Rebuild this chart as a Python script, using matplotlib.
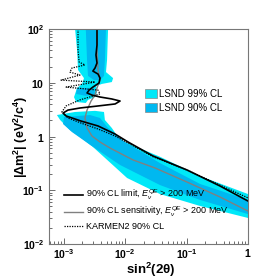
import math
import matplotlib
matplotlib.use('Agg')
import matplotlib.pyplot as plt
from matplotlib.patches import Patch
from matplotlib.lines import Line2D
from matplotlib.ticker import FuncFormatter, LogLocator, NullFormatter

plt.rcParams['font.family'] = ['Liberation Sans', 'DejaVu Sans']
plt.rcParams['mathtext.fontset'] = 'custom'
plt.rcParams['mathtext.rm'] = 'Liberation Sans'
plt.rcParams['mathtext.it'] = 'Liberation Sans:italic'
plt.rcParams['mathtext.bf'] = 'Liberation Sans:bold'

# LSND allowed regions (sin^2 2theta, dm^2) polygons
lsnd99_up_x = [1.54e-3, 5.3e-3, 5.1e-3, 4.9e-3, 6.4e-3, 6.1e-3, 4.2e-3, 3.4e-3, 3.5e-3,
               3.25e-3, 2.5e-3, 2.3e-3, 1.6e-3, 1.48e-3, 1.66e-3, 2.0e-3, 2.15e-3, 1.72e-3, 1.66e-3]
lsnd99_up_y = [100, 100, 26.5, 15.8, 12.2, 10.3, 9.5, 8.7, 6.7,
               5.4, 4.8, 4.2, 4.4, 5.4, 8.0, 9.5, 12.2, 17.3, 40.7]
lsnd99_lo_x = [7.8e-4, 1.54e-3, 3.25e-3, 4.55e-3, 4.7e-3, 6.1e-3, 8.3e-3, 0.037, 0.166, 1.0,
               1.0, 0.166, 0.037, 0.0108, 3.0e-3, 1.85e-3, 1.27e-3, 8.8e-4]
lsnd99_lo_y = [2.51, 2.86, 3.0, 2.86, 2.03, 1.44, 0.86, 0.42, 0.184, 0.085,
               0.0305, 0.051, 0.085, 0.169, 0.64, 0.98, 1.32, 2.03]
lsnd90_up_x = [2.3e-3, 4.9e-3, 4.7e-3, 4.55e-3, 3.92e-3, 3.13e-3, 2.5e-3, 2.41e-3]
lsnd90_up_y = [100, 100, 26.5, 13.4, 11.2, 11.2, 13.4, 26.5]
lsnd90_isl_x = [1.66e-3, 3.13e-3, 3.25e-3, 2.3e-3, 1.6e-3]
lsnd90_isl_y = [8.0, 8.0, 6.2, 5.7, 6.2]
lsnd90_lo_x = [1.02e-3, 2.7e-3, 3.92e-3, 5.3e-3, 0.01, 0.037, 0.166, 1.0,
               1.0, 0.166, 0.037, 8.3e-3, 2.7e-3, 1.37e-3, 9.8e-4]
lsnd90_lo_y = [2.3, 2.51, 2.21, 1.44, 0.79, 0.32, 0.131, 0.066,
               0.036, 0.066, 0.125, 0.295, 0.70, 1.21, 1.71]

# 90% CL limit (black)
limit_x = [3.5e-3, 3.5e-3, 3.37e-3, 3.5e-3, 3.25e-3, 3.0e-3, 3.64e-3, 3.92e-3, 3.78e-3, 3.0e-3,
           2.6e-3, 2.41e-3, 2.9e-3, 3.92e-3, 6.1e-3, 8.3e-3, 6.9e-3, 3.64e-3, 1.85e-3, 1.18e-3,
           9.8e-4, 1.1e-3, 1.92e-3, 3.64e-3, 6.9e-3, 0.0112, 0.0285, 0.102, 0.35, 1.0]
limit_y = [100, 50.4, 32.8, 23.3, 18.8, 16.5, 14.5, 12.2, 9.9, 8.3,
           7.3, 6.45, 5.9, 5.43, 4.99, 4.57, 4.03, 3.7, 3.39, 3.1,
           2.73, 2.41, 1.94, 1.57, 1.11, 0.79, 0.434, 0.238, 0.12, 0.063]

# 90% CL sensitivity (gray)
sens_x = [3.5e-3, 3.5e-3, 3.64e-3, 3.92e-3, 3.5e-3, 3.25e-3, 2.8e-3, 2.41e-3, 2.23e-3, 2.41e-3,
          2.9e-3, 3.92e-3, 5.7e-3, 0.0135, 0.0307, 0.102, 0.35, 1.0]
sens_y = [100, 40.7, 17.3, 11.2, 8.0, 5.9, 4.57, 3.1, 2.21, 1.44,
          1.02, 0.79, 0.61, 0.366, 0.26, 0.142, 0.075, 0.041]

# KARMEN2 90% CL (dotted)
karmen_x = [1.72e-3, 1.72e-3, 1.79e-3, 2.23e-3, 1.37e-3, 1.27e-3, 1.85e-3, 9.1e-4, 3.25e-3, 1.1e-3,
            3.64e-3, 3.92e-3, 1.85e-3, 1.1e-3, 9.4e-4, 1.18e-3, 1.92e-3, 3.64e-3, 6.9e-3, 0.0112,
            0.0285, 0.102, 0.35, 1.0]
karmen_y = [100, 40.7, 24.3, 21.4, 18.8, 15.8, 13.9, 11.2, 10.3, 8.3,
            7.3, 6.2, 4.8, 3.7, 2.86, 2.21, 1.78, 1.38, 1.02, 0.76,
            0.42, 0.238, 0.125, 0.072]

C99 = '#00e8f8'
C90 = '#00b8f0'

fig = plt.figure(figsize=(2.75, 2.8), dpi=100)
ax = fig.add_axes([49 / 275, 36 / 280, 199 / 275, 215 / 280])

ax.fill(lsnd99_up_x, lsnd99_up_y, color=C99, lw=0)
ax.fill(lsnd99_lo_x, lsnd99_lo_y, color=C99, lw=0)
ax.fill(lsnd90_up_x, lsnd90_up_y, color=C90, lw=0)
ax.fill(lsnd90_isl_x, lsnd90_isl_y, color=C90, lw=0)
ax.fill(lsnd90_lo_x, lsnd90_lo_y, color=C90, lw=0)

ax.plot(sens_x, sens_y, color='#808080', lw=1.0)
ax.plot(karmen_x, karmen_y, color='black', lw=0.9, ls=(0, (1, 1)))
ax.plot(limit_x, limit_y, color='black', lw=1.2)

ax.set_xscale('log')
ax.set_yscale('log')
ax.set_xlim(5.8e-4, 1.0)
ax.set_ylim(1e-2, 1e2)


def fmt(v, pos):
    e = int(round(math.log10(v)))
    if e == 0:
        return r'$\mathbf{1}$'
    if e == 1:
        return r'$\mathbf{10}$'
    return r'$\mathbf{10^{%d}}$' % e


ax.xaxis.set_major_formatter(FuncFormatter(fmt))
ax.yaxis.set_major_formatter(FuncFormatter(fmt))
ax.xaxis.set_minor_locator(LogLocator(base=10, subs=range(2, 10)))
ax.yaxis.set_minor_locator(LogLocator(base=10, subs=range(2, 10)))
ax.xaxis.set_minor_formatter(NullFormatter())
ax.yaxis.set_minor_formatter(NullFormatter())
ax.tick_params(which='both', direction='in', top=False, right=False, labelsize=7.5, colors='#555555',
               labelcolor='black', width=0.6)
ax.tick_params(which='major', length=4)
ax.tick_params(which='minor', length=2)
ax.tick_params(axis='x', which='major', pad=2.5)
for s in ax.spines.values():
    s.set_color('#777777')
    s.set_linewidth(0.8)

ax.set_xlabel(r'$\mathbf{sin^2(2\theta)}$', fontsize=9.5)
ax.set_ylabel(r'$\mathbf{|\Delta m^2|\ (eV^2/c^4)}$', fontsize=9)
ax.xaxis.set_label_coords(0.51, -0.076)
ax.yaxis.set_label_coords(-0.095, 0.5)

h1 = [Patch(facecolor=C99, edgecolor='#888888', lw=0.5), Patch(facecolor=C90, edgecolor='#888888', lw=0.5)]
leg1 = ax.legend(h1, ['LSND 99% CL', 'LSND 90% CL'], loc='upper left', bbox_to_anchor=(0.46, 0.745),
                 frameon=False, fontsize=7, handlelength=1.2, handleheight=1.1, handletextpad=0.15,
                 borderpad=0, labelspacing=0.45)
ax.add_artist(leg1)

h2 = [Line2D([], [], color='black', lw=1.2), Line2D([], [], color='#808080', lw=1.0),
      Line2D([], [], color='black', lw=0.9, ls=(0, (1, 1)))]
labs2 = [r'90% CL limit, $E_{\nu}^{QE}$ > 200 MeV', r'90% CL sensitivity, $E_{\nu}^{QE}$ > 200 MeV',
         'KARMEN2 90% CL']
ax.legend(h2, labs2, loc='lower left', bbox_to_anchor=(0.055, 0.04), frameon=False, fontsize=6.5,
          handlelength=2.0, handletextpad=0.35, borderpad=0, labelspacing=0.3)

fig.savefig('out.png', dpi=100)
